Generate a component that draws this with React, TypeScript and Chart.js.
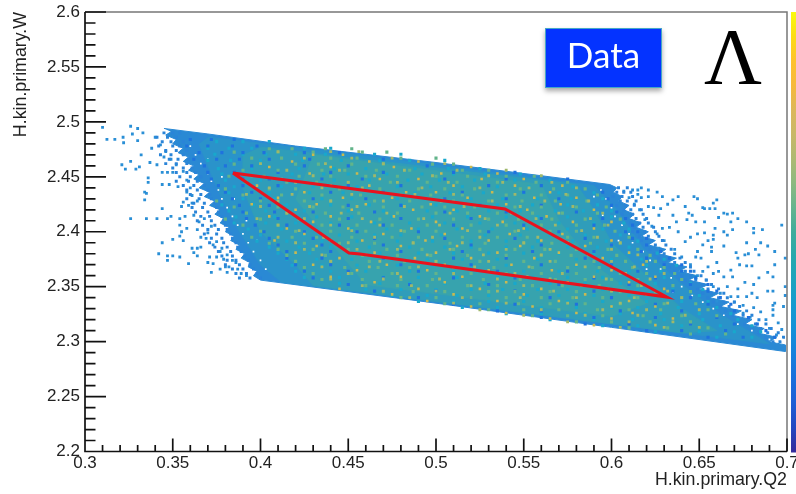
import React, { useEffect, useRef } from "react";
import { Chart, registerables } from "chart.js";

Chart.register(...registerables);

const xTickStep = 0.01;
const yTickStep = 0.01;

// Region outlines [Q2, W]
const bandOuter = [[0.345,2.494],[0.37,2.489],[0.42,2.478],[0.5,2.463],[0.56,2.451],[.599,2.443],[.603,2.44],[.601,2.436],[.606,2.432],[.604,2.428],[.61,2.424],[.607,2.42],[.613,2.416],[.61,2.412],[.617,2.408],[.614,2.404],[.621,2.4],[.617,2.396],[.625,2.392],[.621,2.388],[.631,2.384],[.627,2.38],[.637,2.376],[.632,2.372],[.643,2.368],[.638,2.364],[.649,2.36],[.644,2.356],[.655,2.352],[.65,2.348],[.661,2.344],[.656,2.34],[.667,2.336],[.662,2.332],[.674,2.328],[.669,2.324],[.68,2.32],[.676,2.316],[.687,2.312],[.683,2.308],[.694,2.304],[.69,2.3],[.699,2.297],[0.699,2.291],[0.6,2.313],[0.5,2.335],[.4,2.356],[.396,2.36],[.398,2.364],[.393,2.368],[.394,2.372],[.389,2.376],[.391,2.38],[.386,2.384],[.388,2.388],[.383,2.392],[.385,2.396],[.38,2.4],[.382,2.404],[.377,2.408],[.379,2.412],[.374,2.416],[.377,2.42],[.371,2.424],[.374,2.428],[.368,2.432],[.371,2.436],[.365,2.44],[.368,2.444],[.362,2.448],[.365,2.452],[.359,2.456],[.362,2.46],[.356,2.464],[.359,2.468],[.353,2.472],[.356,2.476],[.35,2.48],[.352,2.484],[.346,2.488],[.349,2.491]];
const bandBlueTeal = [[0.37,2.486],[0.45,2.471],[0.59,2.442],[0.603,2.42],[0.618,2.385],[0.638,2.355],[0.662,2.325],[0.69,2.298],[0.6,2.316],[0.412,2.354],[0.4,2.37],[0.388,2.4],[0.378,2.43],[0.37,2.46],[0.365,2.48]];
const bandTeal = [[0.4,2.477],[0.58,2.443],[0.59,2.42],[0.6,2.39],[0.62,2.36],[0.64,2.33],[0.66,2.31],[0.64,2.308],[0.43,2.351],[0.42,2.37],[0.4,2.4],[0.39,2.44],[0.39,2.47]];
const bandCore = [[0.43,2.47],[0.56,2.443],[0.57,2.41],[0.59,2.37],[0.62,2.335],[0.6,2.323],[0.46,2.352],[0.44,2.39],[0.42,2.43]];
const cutRegion = [[0.3843,2.4535],[0.5393,2.4207],[0.6316,2.3406],[0.4567,2.3797],[0.4504,2.3806],[0.3843,2.4535]];

// Isolated bins [Q2, W]
const strayLeft = [[.310,2.495],[.3125,2.484],[.317,2.484],[.3217,2.486],[.322,2.481],[.326,2.496],[.327,2.489],[.33,2.494],[.33,2.483],[.333,2.49],[.332,2.47],[.326,2.464],[.321,2.461],[.323,2.457],[.329,2.457],[.331,2.459],[.337,2.463],[.341,2.461],[.344,2.454],[.347,2.454],[.35,2.454],[.336,2.449],[.336,2.445],[.344,2.443],[.348,2.443],[.353,2.441],[.334,2.436],[.335,2.435],[.334,2.429],[.344,2.421],[.326,2.412],[.335,2.412],[.341,2.412],[.347,2.412],[.349,2.414],[.354,2.412],[.357,2.414],[.362,2.415],[.354,2.406],[.358,2.403],[.355,2.4],[.364,2.402],[.354,2.396],[.35,2.393],[.344,2.39],[.356,2.392],[.366,2.395],[.369,2.394],[.361,2.385],[.364,2.385],[.366,2.386],[.362,2.381],[.342,2.38],[.347,2.378],[.35,2.378],[.347,2.374],[.354,2.377],[.364,2.378],[.359,2.371],[.371,2.377],[.375,2.377],[.37,2.372],[.373,2.371],[.377,2.366],[.372,2.363],[.38,2.368],[.382,2.368],[.381,2.363],[.378,2.385],[.377,2.382],[.384,2.374],[.386,2.372],[.389,2.362],[.356,2.427],[.359,2.424],[.355,2.423],[.361,2.433],[.358,2.447],
[.34,2.486],[.343,2.479],[.338,2.476],[.346,2.473],[.349,2.466],[.345,2.468],[.352,2.461],[.356,2.455],[.36,2.44],[.358,2.436],[.364,2.428],[.361,2.426],[.368,2.412],[.365,2.409],[.372,2.405],[.37,2.399],[.375,2.391],[.373,2.388],[.381,2.379],[.379,2.375],[.387,2.366],[.392,2.36]];
const strayRight = [[.612,2.438],[.615,2.438],[.617,2.44],[.621,2.438],[.626,2.436],[.629,2.432],[.615,2.434],[.617,2.431],[.621,2.432],[.638,2.432],[.635,2.429],[.647,2.432],[.649,2.43],[.66,2.429],[.658,2.426],[.632,2.425],[.642,2.423],[.652,2.422],[.653,2.421],[.656,2.421],[.659,2.421],[.621,2.423],[.624,2.422],[.628,2.421],[.627,2.415],[.635,2.415],[.644,2.417],[.646,2.415],[.664,2.417],[.666,2.416],[.669,2.417],[.661,2.413],[.653,2.409],[.643,2.411],[.648,2.409],[.637,2.409],[.633,2.404],[.668,2.409],[.672,2.412],[.677,2.409],[.697,2.406],[.659,2.403],[.669,2.402],[.681,2.403],[.686,2.402],[.664,2.4],[.666,2.397],[.653,2.399],[.649,2.398],[.658,2.397],[.681,2.399],[.638,2.4],[.629,2.403],[.645,2.395],[.655,2.392],[.658,2.393],[.642,2.391],[.652,2.388],[.657,2.386],[.664,2.387],[.677,2.39],[.685,2.39],[.689,2.387],[.682,2.384],[.649,2.382],[.657,2.382],[.671,2.381],[.676,2.379],[.678,2.38],[.684,2.379],[.693,2.382],[.672,2.376],[.648,2.377],[.651,2.376],[.699,2.376],[.66,2.372],[.673,2.37],[.677,2.369],[.68,2.369],[.655,2.368],[.693,2.37],[.668,2.365],[.661,2.364],[.652,2.364],[.689,2.363],[.658,2.362],[.664,2.359],[.669,2.359],[.684,2.358],[.692,2.359],[.676,2.354],[.681,2.352],[.666,2.35],[.672,2.348],[.699,2.35],[.68,2.344],[.689,2.346],[.692,2.346],[.668,2.341],[.672,2.341],[.677,2.341],[.683,2.34],[.699,2.342],[.693,2.335],[.698,2.332],[.692,2.333],[.692,2.329],[.675,2.333],[.681,2.331],[.685,2.327],[.692,2.324],[.695,2.317],[.697,2.311],[.688,2.32],
[.607,2.437],[.61,2.431],[.613,2.425],[.616,2.42],[.619,2.411],[.623,2.405],[.626,2.398],[.63,2.392],[.627,2.385],[.636,2.384],[.64,2.377],[.645,2.37],[.642,2.364],[.649,2.36],[.654,2.356],[.658,2.35],[.662,2.344],[.66,2.337],[.67,2.336],[.675,2.326],[.679,2.322],[.683,2.316],[.69,2.312],[.694,2.306]];
const emptyBins = [[.36,2.478],[.363,2.47],[.366,2.462],[.37,2.453],[.372,2.446],[.376,2.438],[.378,2.43],[.381,2.422],[.384,2.414],[.387,2.406],[.39,2.398],[.393,2.39],[.396,2.382],[.4,2.374],[.403,2.366],[.37,2.466],[.378,2.45],[.385,2.43],[.392,2.41],[.398,2.392],[.594,2.438],[.597,2.43],[.6,2.422],[.602,2.414],[.606,2.406],[.61,2.398],[.612,2.39],[.618,2.382],[.622,2.374],[.628,2.366],[.634,2.358],[.64,2.35],[.646,2.342],[.652,2.336],[.658,2.33],[.664,2.324],[.672,2.316],[.68,2.31],[.69,2.302],[.59,2.432],[.595,2.415],[.604,2.392],[.62,2.366],[.635,2.345],[.694,2.3],[.697,2.302]];

// Per-row bins: first number of each row is W, the rest are Q2
const edgeLeftRows = [
[2.49,.345,.35,.354],[2.486,.341,.347,.352],[2.482,.344,.349,.356],[2.478,.342,.35,.354],[2.474,.346,.352,.358],[2.47,.343,.349,.356],[2.466,.348,.353,.359],[2.462,.346,.352,.358],[2.458,.35,.356,.361],[2.454,.352,.358,.363],[2.45,.354,.36,.366],[2.446,.352,.359,.364],[2.442,.356,.362,.368],[2.438,.358,.364,.37],[2.434,.36,.366,.371],[2.43,.358,.365,.372],[2.426,.362,.368,.374],[2.422,.361,.367,.375],[2.418,.363,.37,.376],[2.414,.366,.371,.378],[2.41,.364,.372,.379],[2.406,.367,.374,.38],[2.402,.37,.376,.381],[2.398,.368,.375,.383],[2.394,.372,.378,.384],[2.39,.371,.379,.386],[2.386,.374,.381,.387],[2.382,.376,.383,.389],[2.378,.378,.384,.391],[2.374,.381,.386,.393],[2.37,.38,.388,.394],[2.366,.384,.39,.396],[2.362,.386,.392,.398],[2.358,.388,.394,.4]];
const edgeRightRows = [
[2.44,.6,.604,.609],[2.436,.603,.607,.611],[2.432,.601,.606,.612],[2.428,.605,.609,.614],[2.424,.603,.608,.613],[2.42,.607,.611,.617],[2.416,.606,.612,.618],[2.412,.609,.614,.62],[2.408,.611,.616,.621],[2.404,.613,.618,.624],[2.4,.612,.619,.625],[2.396,.616,.621,.627],[2.392,.617,.623,.629],[2.388,.62,.625,.631],[2.384,.622,.628,.634],[2.38,.625,.63,.636],[2.376,.627,.633,.639],[2.372,.63,.636,.642],[2.368,.633,.639,.645],[2.364,.636,.642,.647],[2.36,.64,.645,.651],[2.356,.642,.648,.654],[2.352,.645,.652,.657],[2.348,.649,.655,.661],[2.344,.652,.657,.664],[2.34,.655,.661,.666],[2.336,.658,.664,.67],[2.332,.662,.667,.673],[2.328,.665,.671,.677],[2.324,.669,.675,.68],[2.32,.672,.678,.684],[2.316,.676,.682,.688],[2.312,.68,.685,.691],[2.308,.684,.689,.695],[2.304,.688,.693,.698],[2.3,.692,.696]];
const hotRows = [
[2.470,.43,.447],[2.464,.418,.462,.49],[2.459,.405,.44,.476,.52],[2.453,.428,.455,.503,.535],[2.448,.412,.468,.49,.526,.55],[2.442,.398,.44,.462,.51,.545,.572],[2.436,.425,.483,.5,.532,.565],[2.431,.41,.447,.475,.518,.556,.58],[2.425,.395,.432,.46,.497,.54,.571],[2.42,.42,.452,.487,.51,.552,.59],[2.414,.405,.44,.476,.525,.563],[2.409,.43,.463,.5,.538,.578,.6],[2.403,.415,.45,.486,.515,.55,.59],[2.398,.425,.47,.505,.542,.572],[2.392,.408,.44,.458,.494,.53,.56,.6],[2.387,.432,.48,.512,.548,.585],[2.381,.42,.465,.5,.535,.57,.61],[2.376,.445,.488,.52,.556,.595],[2.37,.43,.472,.505,.543,.58,.618],[2.365,.455,.495,.53,.566,.6],[2.359,.44,.48,.515,.552,.59,.625],[2.354,.465,.505,.54,.575,.61],[2.348,.445,.49,.525,.56,.598,.63],[2.343,.475,.51,.55,.585,.62],[2.337,.495,.535,.57,.61],[2.332,.52,.555,.6,.625],[2.326,.54,.58,.612],[2.321,.565,.6,.635],[2.315,.59,.625]];
const oliveRows = [
[2.473,.41,.44,.456],[2.467,.425,.452,.475],[2.462,.4,.437,.47,.505],[2.456,.415,.445,.482,.512,.54],[2.451,.395,.43,.465,.498,.53,.56],[2.445,.42,.45,.478,.507,.538,.566],[2.44,.405,.435,.458,.492,.525,.553,.58],[2.434,.392,.418,.452,.488,.51,.545,.574],[2.428,.41,.44,.47,.503,.532,.562,.587],[2.423,.4,.428,.455,.482,.516,.548,.578],[2.417,.415,.446,.472,.508,.543,.57,.595],[2.412,.398,.425,.458,.493,.528,.557,.588],[2.406,.41,.44,.468,.502,.535,.568,.598],[2.401,.422,.452,.48,.518,.547,.583],[2.395,.41,.436,.465,.498,.525,.558,.592],[2.39,.42,.45,.487,.515,.55,.575,.605],[2.384,.425,.455,.478,.508,.54,.565,.6],[2.379,.435,.46,.495,.527,.56,.587,.615],[2.373,.44,.468,.5,.53,.565,.6,.62],[2.368,.435,.462,.49,.522,.553,.585,.613],[2.362,.45,.478,.51,.545,.572,.608,.63],[2.357,.44,.47,.502,.535,.565,.597,.622],[2.351,.458,.486,.52,.55,.583,.617],[2.346,.47,.5,.535,.567,.6,.632],[2.34,.485,.515,.548,.58,.613,.64],[2.335,.51,.54,.575,.605,.632],[2.329,.525,.56,.595,.62,.65],[2.324,.55,.585,.615,.642],[2.318,.575,.61,.635],[2.313,.605,.63,.65]];
const greenRows = [
[2.4755,.405,.418,.437,.452],[2.4725,.385,.41,.43,.458,.472],[2.467,.395,.412,.44,.455,.48,.5],[2.4615,.385,.42,.433,.452,.47,.498,.51],[2.456,.39,.41,.435,.448,.466,.485,.515,.53],[2.4505,.382,.402,.422,.44,.46,.478,.5,.518,.54,.556],[2.445,.392,.415,.432,.45,.474,.495,.512,.535,.557,.575],[2.439,.38,.405,.42,.445,.468,.49,.505,.522,.548,.567,.585],[2.4335,.39,.412,.435,.457,.48,.497,.515,.54,.56,.575,.592],[2.428,.375,.4,.425,.44,.465,.485,.51,.53,.549,.568,.586],[2.4225,.385,.41,.43,.447,.47,.492,.505,.522,.545,.56,.58,.597],[2.417,.392,.415,.437,.456,.478,.5,.518,.535,.555,.572,.592],[2.4115,.38,.4,.422,.445,.468,.49,.51,.53,.547,.566,.585,.605],[2.406,.39,.41,.435,.455,.475,.495,.52,.54,.56,.58,.596],[2.4005,.4,.42,.44,.46,.482,.5,.525,.545,.565,.58,.602],[2.395,.395,.418,.432,.452,.475,.49,.515,.535,.552,.575,.59,.61],[2.3895,.405,.425,.445,.465,.487,.508,.528,.55,.566,.588,.605],[2.384,.41,.43,.45,.472,.492,.51,.525,.545,.562,.58,.598,.615],[2.3785,.415,.437,.458,.478,.497,.518,.54,.56,.577,.603,.622],[2.373,.42,.44,.462,.482,.5,.525,.55,.568,.59,.608,.625],[2.3675,.425,.448,.467,.485,.51,.533,.555,.575,.593,.612,.63],[2.362,.43,.452,.475,.5,.52,.54,.56,.58,.605,.62,.636],[2.3565,.435,.458,.48,.498,.527,.548,.568,.585,.6,.615,.64],[2.351,.46,.478,.495,.518,.535,.555,.572,.593,.615,.635],[2.3455,.47,.487,.505,.53,.545,.565,.58,.605,.625,.645],[2.34,.48,.5,.52,.54,.56,.578,.595,.615,.64],[2.3345,.505,.525,.547,.565,.585,.605,.63,.648],[2.329,.53,.55,.57,.592,.61,.628,.655],[2.3235,.555,.575,.595,.618,.64,.66],[2.318,.58,.6,.622,.645],[2.3125,.61,.632,.655],[2.307,.645,.665]];
const tealRows = [
[2.482,.375,.39,.405],[2.476,.37,.382,.395,.425,.44],[2.4705,.374,.39,.403,.42,.437,.465,.48],[2.465,.37,.383,.4,.424,.446,.468,.485,.505],[2.4575,.376,.395,.422,.442,.46,.488,.507,.525],[2.4525,.378,.392,.418,.436,.45,.472,.492,.51,.528,.548],[2.447,.38,.4,.42,.442,.462,.484,.502,.522,.545,.565],[2.441,.385,.412,.43,.455,.478,.497,.515,.535,.553,.578],[2.4355,.382,.405,.428,.447,.465,.488,.508,.527,.55,.57,.59],[2.43,.39,.408,.435,.452,.478,.493,.52,.538,.558,.577,.595],[2.4245,.378,.396,.415,.44,.462,.48,.5,.515,.535,.555,.575,.592],[2.419,.382,.403,.425,.45,.47,.495,.512,.53,.548,.568,.584,.6],[2.4135,.386,.408,.432,.452,.475,.498,.518,.54,.558,.575,.6],[2.408,.385,.403,.42,.44,.465,.485,.505,.525,.545,.57,.59,.607],[2.4025,.393,.412,.43,.452,.472,.49,.512,.532,.552,.575,.595,.61],[2.397,.4,.425,.445,.465,.48,.503,.528,.548,.565,.585,.605],[2.3915,.398,.415,.435,.455,.478,.498,.52,.54,.558,.578,.597,.615],[2.386,.405,.422,.44,.462,.485,.505,.52,.54,.555,.575,.592,.61],[2.3805,.41,.428,.45,.468,.49,.51,.53,.55,.57,.59,.61,.626],[2.375,.415,.432,.452,.475,.495,.515,.535,.558,.58,.6,.617,.63],[2.3695,.418,.435,.455,.478,.498,.52,.54,.56,.58,.6,.62,.637],[2.364,.42,.44,.46,.485,.51,.53,.55,.57,.592,.61,.628,.64],[2.3585,.425,.445,.47,.49,.512,.535,.555,.575,.595,.61,.63,.648],[2.353,.445,.468,.485,.505,.528,.545,.565,.585,.605,.625,.645],[2.3475,.46,.48,.5,.52,.538,.558,.575,.595,.615,.635,.652],[2.342,.475,.495,.512,.53,.552,.57,.59,.61,.63,.65],[2.3365,.49,.51,.53,.55,.575,.595,.62,.64,.655],[2.331,.515,.535,.56,.58,.6,.615,.638,.66],[2.3255,.54,.56,.585,.605,.628,.65,.668],[2.32,.565,.59,.612,.63,.652,.672],[2.3145,.595,.615,.64,.662,.68],[2.309,.625,.65,.67,.685],[2.304,.66,.68]];
const blueRows = [
[2.484,.36,.372,.385],[2.478,.358,.37,.384,.398],[2.472,.365,.378,.39,.402,.425,.445],[2.466,.362,.375,.388,.405,.428,.47],[2.46,.368,.38,.395,.425,.45,.495],[2.454,.37,.385,.41,.44,.47,.51,.545],[2.448,.372,.39,.405,.435,.458,.505,.54,.575],[2.442,.376,.39,.41,.45,.48,.53,.56],[2.436,.38,.395,.44,.47,.515,.55,.595],[2.43,.384,.4,.43,.46,.505,.54,.57,.598],[2.424,.388,.405,.45,.48,.525,.56,.6],[2.418,.39,.408,.43,.465,.505,.54,.58,.603],[2.412,.392,.41,.45,.48,.52,.56,.595,.608],[2.406,.397,.415,.445,.47,.51,.55,.59,.612],[2.4,.402,.425,.455,.49,.53,.57,.608,.615],[2.394,.405,.43,.465,.505,.545,.585,.612,.62],[2.388,.41,.435,.47,.52,.56,.6,.62],[2.382,.415,.44,.48,.515,.555,.59,.617,.628],[2.376,.415,.435,.47,.51,.54,.585,.62,.633],[2.37,.42,.44,.48,.52,.56,.6,.63,.64],[2.364,.425,.45,.49,.535,.575,.615,.64,.645],[2.358,.43,.47,.51,.545,.59,.625,.648],[2.352,.45,.485,.53,.57,.61,.645,.655],[2.346,.465,.5,.545,.59,.635,.655,.66],[2.34,.49,.52,.565,.6,.645,.662],[2.334,.51,.545,.58,.625,.655,.668],[2.328,.535,.56,.605,.64,.67],[2.322,.56,.59,.625,.66,.678],[2.316,.585,.61,.645,.67,.683],[2.31,.62,.64,.665,.688],[2.304,.655,.675,.693]];

const paletteStops = ["#f9fb0e","#fcdc14","#fec22c","#f6b93c","#dcb75a","#c8b868","#adb973","#8cb980","#65b48f","#3fac9c","#27a8ad","#1ca3bf","#169ad0","#1590d8","#177fdc","#1a6edb","#1e5dd4","#2346c0","#352a9a"];

const toPts = (list: number[][]) => list.map(([x, y]) => ({ x, y }));
const fromRows = (rows: number[][]) =>
  rows.flatMap(([w, ...qs]) => qs.map((q) => ({ x: q, y: w })));

const polygon = (data: number[][], color: string, order: number) => ({
  type: "line" as const,
  data: toPts(data),
  backgroundColor: color,
  borderColor: color,
  borderWidth: 1,
  fill: "shape",
  pointRadius: 0,
  tension: 0,
  order,
});
const cells = (data: { x: number; y: number }[], color: string, order: number, r = 2.2) => ({
  type: "scatter" as const,
  data,
  backgroundColor: color,
  borderWidth: 0,
  pointStyle: "rect",
  pointRadius: r,
  order,
});

const frame = {
  id: "rootFrame",
  afterDraw(chart: any) {
    const { ctx, chartArea: a, scales } = chart;
    ctx.save();
    const g = ctx.createLinearGradient(0, a.top, 0, a.bottom + 1);
    paletteStops.forEach((c, i) => g.addColorStop(i / (paletteStops.length - 1), c));
    ctx.fillStyle = g;
    ctx.fillRect(a.right + 4, a.top, 6, a.bottom - a.top + 1);
    ctx.strokeStyle = "#777";
    ctx.lineWidth = 1.5;
    ctx.beginPath();
    ctx.moveTo(a.left, a.top);
    ctx.lineTo(a.right, a.top);
    ctx.lineTo(a.right, a.bottom);
    ctx.stroke();
    ctx.strokeStyle = "#111";
    ctx.lineWidth = 1.7;
    ctx.beginPath();
    ctx.moveTo(a.left, a.top);
    ctx.lineTo(a.left, a.bottom);
    ctx.lineTo(a.right, a.bottom);
    scales.x.ticks.forEach((t: any) => {
      const p = scales.x.getPixelForValue(t.value);
      const major = Math.round(t.value * 1000) % 50 === 0;
      ctx.moveTo(p, a.bottom);
      ctx.lineTo(p, a.bottom - (major ? 13 : 6.5));
    });
    scales.y.ticks.forEach((t: any) => {
      const p = scales.y.getPixelForValue(t.value);
      const major = Math.round(t.value * 1000) % 50 === 0;
      ctx.moveTo(a.left, p);
      ctx.lineTo(a.left + (major ? 21 : 10.5), p);
    });
    ctx.stroke();
    ctx.restore();
  },
};

const fmt = (v: number | string) => {
  const n = Number(v);
  return Math.round(n * 1000) % 50 === 0 ? String(parseFloat(n.toFixed(2))) : "";
};
const tickFont = { family: "'Liberation Sans', Arial, sans-serif", size: 17 };
const titleFont = { family: "'Liberation Sans', Arial, sans-serif", size: 17.8 };

export default function App() {
  const ref = useRef<HTMLCanvasElement>(null);
  useEffect(() => {
    const chart = new Chart(ref.current!, {
      type: "scatter",
      data: {
        datasets: [
          { ...polygon(cutRegion, "#e8131e", 1), fill: false, borderWidth: 3 } as any,
          cells(fromRows(hotRows), "#c9b951", 2, 1.8),
          cells(fromRows(oliveRows), "#9fb86a", 3, 2),
          cells(fromRows(greenRows), "#62b48a", 4),
          cells(fromRows(blueRows), "#1f72de", 5),
          cells(fromRows(tealRows), "#18a8cc", 6),
          cells(toPts(emptyBins), "#ffffff", 7, 1.2),
          cells(fromRows(edgeLeftRows), "#2a84d8", 8, 2.1),
          cells(fromRows(edgeRightRows), "#2a84d8", 8, 2.1),
          cells(toPts(strayLeft), "#2a8fd6", 9, 2),
          cells(toPts(strayRight), "#2a8fd6", 9, 2),
          polygon(bandCore, "#37a3ae", 10),
          polygon(bandTeal, "#2f9dba", 11),
          polygon(bandBlueTeal, "#2a93ca", 12),
          polygon(bandOuter, "#2a89d4", 13),
        ],
      },
      options: {
        animation: false,
        responsive: false,
        layout: { padding: { top: 12, right: 9, left: 0, bottom: 0 } },
        plugins: { legend: { display: false }, tooltip: { enabled: false } },
        scales: {
          x: {
            type: "linear",
            min: 0.3,
            max: 0.7,
            grid: { display: false, drawTicks: false },
            border: { display: false },
            ticks: {
              stepSize: xTickStep,
              autoSkip: false,
              maxRotation: 0,
              padding: 2,
              color: "#222",
              font: tickFont,
              callback: fmt,
            },
            title: {
              display: true,
              text: "H.kin.primary.Q2",
              align: "end",
              color: "#222",
              font: titleFont,
              padding: { top: 0, bottom: 3 },
            },
            afterFit(s: any) {
              s.height = 42.5;
              s.paddingLeft = 0;
              s.paddingRight = 0;
            },
          },
          y: {
            type: "linear",
            min: 2.2,
            max: 2.6,
            grid: { display: false, drawTicks: false },
            border: { display: false },
            ticks: {
              stepSize: yTickStep,
              autoSkip: false,
              padding: 5,
              color: "#222",
              font: tickFont,
              callback: fmt,
            },
            title: {
              display: true,
              text: "H.kin.primary.W",
              align: "end",
              color: "#222",
              font: titleFont,
              padding: { top: 10, bottom: 0 },
            },
            afterFit(s: any) {
              s.width = 85;
              s.paddingTop = 0;
              s.paddingBottom = 0;
            },
          },
        },
      } as any,
      plugins: [frame],
    });
    return () => chart.destroy();
  }, []);

  return (
    <div style={{ position: "fixed", left: 0, top: 0, width: 796, height: 494, background: "#fff", overflow: "hidden" }}>
      <canvas ref={ref} width={796} height={494} style={{ display: "block", filter: "blur(0.45px)" }} />
      <div
        style={{
          position: "absolute",
          left: 545,
          top: 28,
          width: 117,
          height: 60,
          boxSizing: "border-box",
          background: "#0433ff",
          border: "1.5px solid #45a6c8",
          boxShadow: "0 3px 5px rgba(0,0,0,0.35)",
          color: "#fff",
          fontFamily: "Lato, sans-serif",
          fontSize: 35,
          lineHeight: "50px",
          textAlign: "center",
        }}
      >
        Data
      </div>
      <div
        style={{
          position: "absolute",
          left: 695,
          top: 12,
          width: 76,
          textAlign: "center",
          fontFamily: "'Liberation Serif', serif",
          fontSize: 80,
          lineHeight: "90px",
          color: "#000",
        }}
      >
        Λ
      </div>
    </div>
  );
}
